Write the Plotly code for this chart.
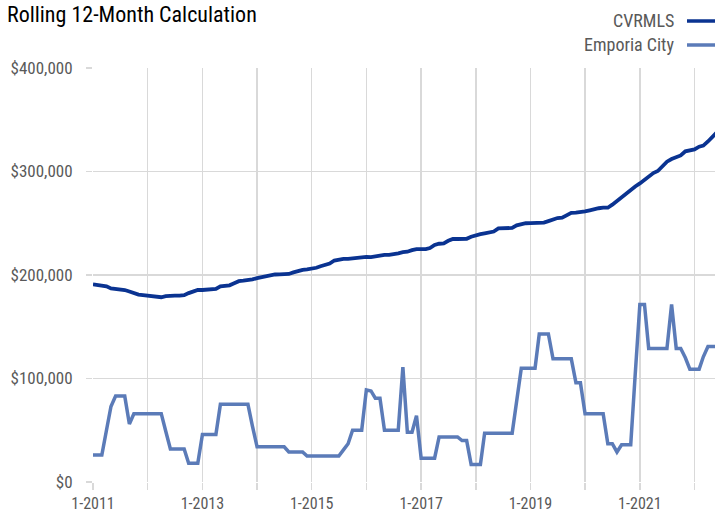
import plotly.graph_objects as go
import pandas as pd

# ---- data ----
months = pd.date_range("2011-01-01", periods=138, freq="MS").strftime("%Y-%m-%d").tolist()

cvrmls = [
    191, 190.5, 190.3, 189, 187, 186.5, 186, 185.5, 184, 182.5, 181, 180.5,   # 2011
    180, 179.5, 178.5, 178.5, 179.5, 180, 180, 180, 180.5, 182.5, 184, 185.5,  # 2012
    185.5, 186, 186, 186.5, 189, 189.5, 190, 192, 194, 194.5, 195, 195.8,      # 2013
    197, 198, 199, 200, 200.5, 200.7, 200.7, 201, 202.5, 204, 205, 205.5,      # 2014
    206, 207, 208.5, 209.5, 211, 214, 215.2, 215.5, 215.5, 216, 217, 217,      # 2015
    217.5, 217.2, 218, 219, 219.5, 219.5, 220, 221, 222, 222.5, 224, 225,      # 2016
    225, 225, 226, 229, 230.2, 230.6, 233, 234.8, 234.8, 234.8, 235, 237,      # 2017
    238.6, 239.5, 240.3, 241, 242, 245, 245.1, 245.1, 245.5, 248, 249.5, 250,  # 2018
    250.2, 250.3, 250.4, 250.6, 252, 254, 255, 255.4, 258, 260, 260.2, 260.5,  # 2019
    261.5, 262.5, 263.8, 264.5, 265, 265, 268, 271.5, 276, 279.5, 282.5, 285.5,  # 2020
    288.5, 292, 296, 298.5, 300.5, 305, 309.5, 312, 314.3, 315.5, 319.5, 320.5,  # 2021
    321.4, 324, 325, 329, 334, 338,                                            # 2022
]

emporia = [
    26, 26, 26, 50, 73, 83, 83, 83, 56, 66, 66, 66,          # 2011
    66, 66, 66, 66, 49, 32, 32, 32, 32, 18, 18, 18,          # 2012
    46, 46, 46, 46, 75, 75, 75, 75, 75, 75, 75, 54,          # 2013
    34, 34, 34, 34, 34, 34, 34, 29, 29, 29, 29, 25,          # 2014
    25, 25, 25, 25, 25, 25, 25, 31, 37, 50, 50, 50,          # 2015
    89, 88, 81, 81, 50, 50, 50, 50, 111, 48, 48, 64,         # 2016
    23, 23, 23, 23, 43.5, 43.5, 43.5, 43.5, 43.5, 40, 40, 17,  # 2017
    17, 17, 47, 47, 47, 47, 47, 47, 47, 78, 110, 110,        # 2018
    110, 110, 143, 143, 143, 119, 119, 119, 119, 119, 96, 96,  # 2019
    66, 66, 66, 66, 66, 37, 37, 29, 36, 36, 36, 104,         # 2020
    171.6, 171.6, 129, 129, 129, 129, 129, 171.6, 129, 129, 120, 109,  # 2021
    109, 109, 121, 131, 131, 131,                            # 2022
]

cvrmls_vals = [v * 1000 for v in cvrmls]
emporia_vals = [v * 1000 for v in emporia]

year_ticks = [f"{y}-01-01" for y in range(2011, 2023)]
year_labels = ["1-2011", "", "1-2013", "", "1-2015", "", "1-2017", "", "1-2019", "", "1-2021", ""]
y_ticks = [0, 100000, 200000, 300000, 400000]
y_labels = ["$0", "$100,000", "$200,000", "$300,000", "$400,000"]

series_names = ["CVRMLS", "Emporia City"]
series_colors = ["#0a3391", "#5b7bb8"]
subtitle = "Rolling 12-Month Calculation"

# ---- figure ----
FONT = "Liberation Sans Narrow, Arial Narrow, Roboto Condensed, Roboto, sans-serif"
W, H = 715, 517
L, R, T, B = 93, 0, 68, 517 - 482
pw, ph = W - L - R, H - T - B


def px_x(px):
    return (px - L) / pw


def px_y(py):
    return (H - B - py) / ph


fig = go.Figure()
fig.add_trace(go.Scatter(x=months, y=emporia_vals, mode="lines", name=series_names[1],
                         line=dict(color=series_colors[1], width=3.5)))
fig.add_trace(go.Scatter(x=months, y=cvrmls_vals, mode="lines", name=series_names[0],
                         line=dict(color=series_colors[0], width=3.8)))

grid = "#d9d9d9"
fig.update_xaxes(
    range=["2011-01-01", "2022-05-18"],
    tickmode="array", tickvals=year_ticks, ticktext=year_labels,
    showgrid=True, gridcolor=grid, gridwidth=1.5,
    ticks="outside", ticklen=7, tickcolor=grid, tickwidth=1.5,
    showline=False, zeroline=False,
    tickfont=dict(family=FONT, size=16, color="#595959"),
)
fig.update_yaxes(
    range=[0, 400000],
    tickmode="array", tickvals=y_ticks, ticktext=y_labels,
    showgrid=True, gridcolor=grid, gridwidth=1.5,
    ticks="outside", ticklen=6, tickcolor=grid, tickwidth=1.5,
    ticklabelstandoff=10,
    showline=False, zeroline=False,
    tickfont=dict(family=FONT, size=17, color="#595959"),
)

# legend drawn on the right (text then line sample)
leg_y_px = [21, 45]
for name, color, ypx in zip(series_names, series_colors, leg_y_px):
    yp = px_y(ypx)
    fig.add_annotation(xref="paper", yref="paper", x=px_x(676), y=yp,
                       text=name, showarrow=False, xanchor="right", yanchor="middle",
                       font=dict(family=FONT, size=18, color="#595959"))
    fig.add_shape(type="line", xref="paper", yref="paper",
                  x0=px_x(687), x1=1.02, y0=yp, y1=yp,
                  line=dict(color=color, width=3.5))

fig.add_annotation(xref="paper", yref="paper", x=px_x(5), y=px_y(14),
                   text=subtitle, showarrow=False, xanchor="left", yanchor="middle",
                   font=dict(family=FONT, size=22, color="#000000"))

fig.update_layout(
    width=W, height=H,
    margin=dict(l=L, r=R, t=T, b=B),
    plot_bgcolor="white", paper_bgcolor="white",
    showlegend=False,
    hovermode=False,
)

fig.write_html(
    "out.html",
    config={"displayModeBar": False, "staticPlot": True},
    post_script="document.body.style.margin='0';document.documentElement.style.overflow='hidden';document.body.style.overflow='hidden';",
)
